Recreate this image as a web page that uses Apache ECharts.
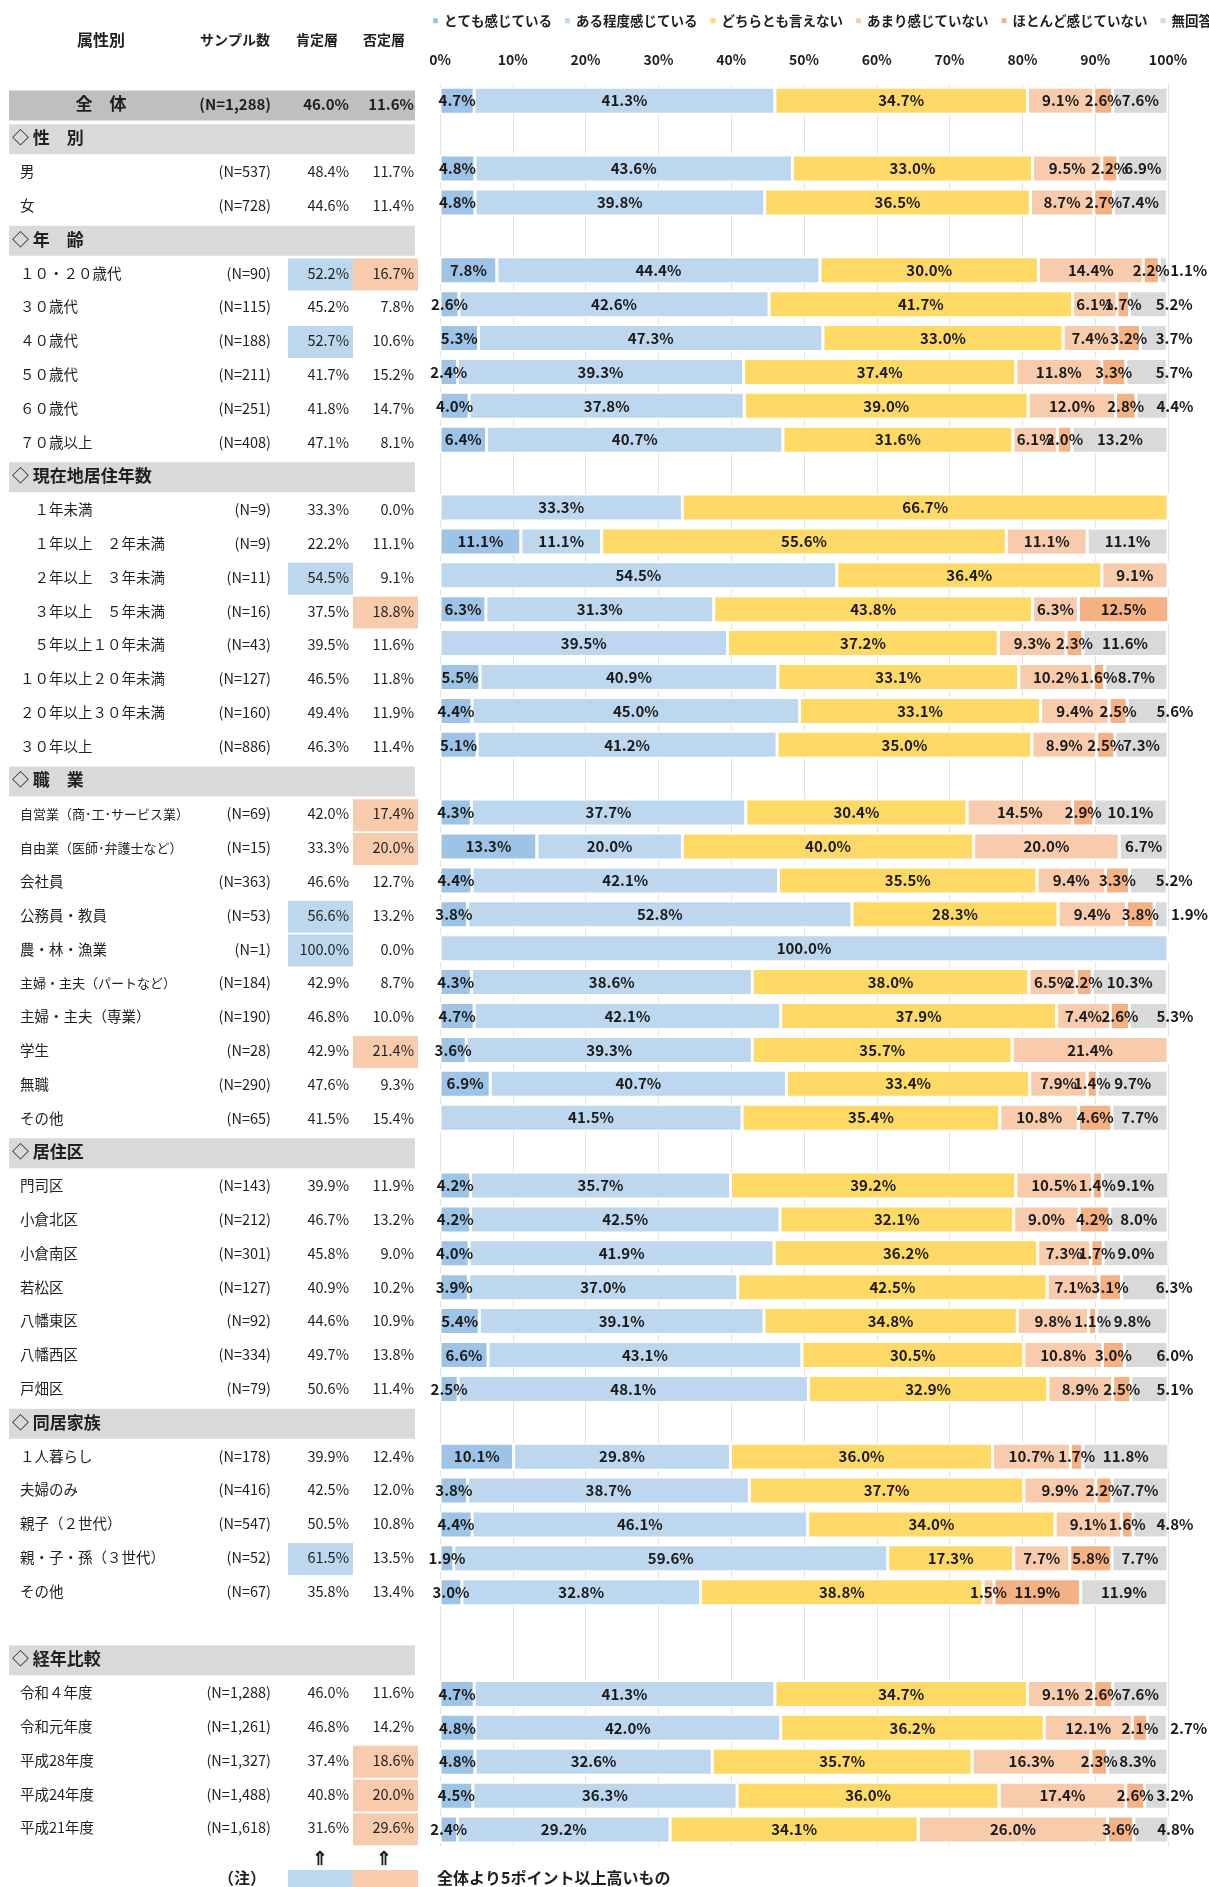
<!DOCTYPE html>
<html>
<head>
<meta charset="utf-8">
<script src="https://cdn.jsdelivr.net/npm/echarts@6/dist/echarts.min.js"></script>
<style>
  html, body { margin: 0; padding: 0; background: #fff; }
  #chart { width: 1209px; height: 1887px; }
</style>
</head>
<body>
<div id="chart"></div>
<script>
/* ── データ ── */
const FONT = "'Noto Sans CJK JP', 'Noto Sans', sans-serif";

// T=全体, S=見出し, I=項目, B=空行
const rowKinds = [
  'T', 'S', 'I', 'I', 'S', 'I', 'I', 'I', 'I', 'I', 'I',
  'S', 'I', 'I', 'I', 'I', 'I', 'I', 'I', 'I',
  'S', 'I', 'I', 'I', 'I', 'I', 'I', 'I', 'I', 'I', 'I',
  'S', 'I', 'I', 'I', 'I', 'I', 'I', 'I',
  'S', 'I', 'I', 'I', 'I', 'I', 'B',
  'S', 'I', 'I', 'I', 'I', 'I'
];

const rowLabels = [
  '全　体', '◇ 性　別', '男', '女',
  '◇ 年　齢', '１０・２０歳代', '３０歳代', '４０歳代', '５０歳代', '６０歳代', '７０歳以上',
  '◇ 現在地居住年数', '　１年未満', '　１年以上　２年未満', '　２年以上　３年未満', '　３年以上　５年未満',
  '　５年以上１０年未満', '１０年以上２０年未満', '２０年以上３０年未満', '３０年以上',
  '◇ 職　業', '自営業（商･工･サービス業）', '自由業（医師･弁護士など）', '会社員', '公務員・教員',
  '農・林・漁業', '主婦・主夫（パートなど）', '主婦・主夫（専業）', '学生', '無職', 'その他',
  '◇ 居住区', '門司区', '小倉北区', '小倉南区', '若松区', '八幡東区', '八幡西区', '戸畑区',
  '◇ 同居家族', '１人暮らし', '夫婦のみ', '親子（２世代）', '親・子・孫（３世代）', 'その他', '',
  '◇ 経年比較', '令和４年度', '令和元年度', '平成28年度', '平成24年度', '平成21年度'
];

const sampleN = [
  '(N=1,288)', '', '(N=537)', '(N=728)',
  '', '(N=90)', '(N=115)', '(N=188)', '(N=211)', '(N=251)', '(N=408)',
  '', '(N=9)', '(N=9)', '(N=11)', '(N=16)', '(N=43)', '(N=127)', '(N=160)', '(N=886)',
  '', '(N=69)', '(N=15)', '(N=363)', '(N=53)', '(N=1)', '(N=184)', '(N=190)', '(N=28)', '(N=290)', '(N=65)',
  '', '(N=143)', '(N=212)', '(N=301)', '(N=127)', '(N=92)', '(N=334)', '(N=79)',
  '', '(N=178)', '(N=416)', '(N=547)', '(N=52)', '(N=67)', '',
  '', '(N=1,288)', '(N=1,261)', '(N=1,327)', '(N=1,488)', '(N=1,618)'
];

// 肯定層
const posPct = [
  46.0, null, 48.4, 44.6,
  null, 52.2, 45.2, 52.7, 41.7, 41.8, 47.1,
  null, 33.3, 22.2, 54.5, 37.5, 39.5, 46.5, 49.4, 46.3,
  null, 42.0, 33.3, 46.6, 56.6, 100.0, 42.9, 46.8, 42.9, 47.6, 41.5,
  null, 39.9, 46.7, 45.8, 40.9, 44.6, 49.7, 50.6,
  null, 39.9, 42.5, 50.5, 61.5, 35.8, null,
  null, 46.0, 46.8, 37.4, 40.8, 31.6
];

// 否定層
const negPct = [
  11.6, null, 11.7, 11.4,
  null, 16.7, 7.8, 10.6, 15.2, 14.7, 8.1,
  null, 0.0, 11.1, 9.1, 18.8, 11.6, 11.8, 11.9, 11.4,
  null, 17.4, 20.0, 12.7, 13.2, 0.0, 8.7, 10.0, 21.4, 9.3, 15.4,
  null, 11.9, 13.2, 9.0, 10.2, 10.9, 13.8, 11.4,
  null, 12.4, 12.0, 10.8, 13.5, 13.4, null,
  null, 11.6, 14.2, 18.6, 20.0, 29.6
];

const seriesNames = ['とても感じている', 'ある程度感じている', 'どちらとも言えない', 'あまり感じていない', 'ほとんど感じていない', '無回答'];
const seriesColors = ['#9dc3e6', '#bdd7ee', '#ffd966', '#f8cbad', '#f4b183', '#d9d9d9'];

const veryFelt = [
  4.7, null, 4.8, 4.8,
  null, 7.8, 2.6, 5.3, 2.4, 4.0, 6.4,
  null, 0, 11.1, 0, 6.3, 0, 5.5, 4.4, 5.1,
  null, 4.3, 13.3, 4.4, 3.8, 0, 4.3, 4.7, 3.6, 6.9, 0,
  null, 4.2, 4.2, 4.0, 3.9, 5.4, 6.6, 2.5,
  null, 10.1, 3.8, 4.4, 1.9, 3.0, null,
  null, 4.7, 4.8, 4.8, 4.5, 2.4
];
const somewhatFelt = [
  41.3, null, 43.6, 39.8,
  null, 44.4, 42.6, 47.3, 39.3, 37.8, 40.7,
  null, 33.3, 11.1, 54.5, 31.3, 39.5, 40.9, 45.0, 41.2,
  null, 37.7, 20.0, 42.1, 52.8, 100.0, 38.6, 42.1, 39.3, 40.7, 41.5,
  null, 35.7, 42.5, 41.9, 37.0, 39.1, 43.1, 48.1,
  null, 29.8, 38.7, 46.1, 59.6, 32.8, null,
  null, 41.3, 42.0, 32.6, 36.3, 29.2
];
const neither = [
  34.7, null, 33.0, 36.5,
  null, 30.0, 41.7, 33.0, 37.4, 39.0, 31.6,
  null, 66.7, 55.6, 36.4, 43.8, 37.2, 33.1, 33.1, 35.0,
  null, 30.4, 40.0, 35.5, 28.3, 0, 38.0, 37.9, 35.7, 33.4, 35.4,
  null, 39.2, 32.1, 36.2, 42.5, 34.8, 30.5, 32.9,
  null, 36.0, 37.7, 34.0, 17.3, 38.8, null,
  null, 34.7, 36.2, 35.7, 36.0, 34.1
];
const notMuch = [
  9.1, null, 9.5, 8.7,
  null, 14.4, 6.1, 7.4, 11.8, 12.0, 6.1,
  null, 0, 11.1, 9.1, 6.3, 9.3, 10.2, 9.4, 8.9,
  null, 14.5, 20.0, 9.4, 9.4, 0, 6.5, 7.4, 21.4, 7.9, 10.8,
  null, 10.5, 9.0, 7.3, 7.1, 9.8, 10.8, 8.9,
  null, 10.7, 9.9, 9.1, 7.7, 1.5, null,
  null, 9.1, 12.1, 16.3, 17.4, 26.0
];
const hardlyAny = [
  2.6, null, 2.2, 2.7,
  null, 2.2, 1.7, 3.2, 3.3, 2.8, 2.0,
  null, 0, 0, 0, 12.5, 2.3, 1.6, 2.5, 2.5,
  null, 2.9, 0, 3.3, 3.8, 0, 2.2, 2.6, 0, 1.4, 4.6,
  null, 1.4, 4.2, 1.7, 3.1, 1.1, 3.0, 2.5,
  null, 1.7, 2.2, 1.6, 5.8, 11.9, null,
  null, 2.6, 2.1, 2.3, 2.6, 3.6
];
const noAnswer = [
  7.6, null, 6.9, 7.4,
  null, 1.1, 5.2, 3.7, 5.7, 4.4, 13.2,
  null, 0, 11.1, 0, 0, 11.6, 8.7, 5.6, 7.3,
  null, 10.1, 6.7, 5.2, 1.9, 0, 10.3, 5.3, 0, 9.7, 7.7,
  null, 9.1, 8.0, 9.0, 6.3, 9.8, 6.0, 5.1,
  null, 11.8, 7.7, 4.8, 7.7, 11.9, null,
  null, 7.6, 2.7, 8.3, 3.2, 4.8
];

const seriesValues = [veryFelt, somewhatFelt, neither, notMuch, hardlyAny, noAnswer];
const xTicks = { min: 0, max: 100, interval: 10 };

/* ── 表 (左側) ── */
const rowIndex = rowLabels.map((_, i) => String(i));
const HIGHLIGHT_GAP = 4.95; // 全体より5ポイント以上高いもの

function renderTableRow(params, api) {
  const i = api.value(1);
  const kind = rowKinds[i];
  if (kind === 'B') return { type: 'group', children: [] };
  const cy = api.coord([0, i])[1];
  const ty = cy - 1.5;
  const children = [];
  const text = (str, x, align, font) => ({
    type: 'text',
    style: {
      text: str, x, y: ty,
      align, textAlign: align, verticalAlign: 'middle', textVerticalAlign: 'middle',
      fill: '#1f1f1f', font
    }
  });
  const rect = (x1, x2, h, fill) => ({
    type: 'rect',
    shape: { x: x1, y: cy - h / 2, width: x2 - x1, height: h },
    style: { fill }
  });

  if (kind === 'T' || kind === 'S') {
    children.push(rect(9, 415, 30, kind === 'T' ? '#bfbfbf' : '#d9d9d9'));
  }
  if (kind === 'T') {
    const bold = `bold 15px ${FONT}`;
    children.push(text(rowLabels[i], 101, 'center', `bold 17px ${FONT}`));
    children.push(text(sampleN[i], 271, 'right', bold));
    children.push(text(posPct[i].toFixed(1) + '%', 349, 'right', bold));
    children.push(text(negPct[i].toFixed(1) + '%', 414, 'right', bold));
  } else if (kind === 'S') {
    children.push(text(rowLabels[i], 12, 'left', `bold 17px ${FONT}`));
  } else {
    if (posPct[i] - posPct[0] >= HIGHLIGHT_GAP) children.push(rect(288, 353, 32, '#bdd7ee'));
    if (negPct[i] - negPct[0] >= HIGHLIGHT_GAP) children.push(rect(353, 418, 32, '#f8cbad'));
    const nameSize = rowLabels[i].length > 10 ? 13 : 14.5;
    children.push(text(rowLabels[i], 20, 'left', `${nameSize}px ${FONT}`));
    children.push(text(sampleN[i], 271, 'right', `14.5px ${FONT}`));
    children.push(text(posPct[i].toFixed(1) + '%', 349, 'right', `14.5px ${FONT}`));
    children.push(text(negPct[i].toFixed(1) + '%', 414, 'right', `14.5px ${FONT}`));
  }
  return { type: 'group', children };
}

/* ── 帯グラフのデータ (ラベル位置調整) ── */
function buildSeriesData(values, isLast) {
  return values.map(v => {
    if (v == null) return '-';
    if (v === 0) return { value: 0, label: { show: false } };
    if (isLast && v < 3) {
      return { value: v, label: { position: 'right', distance: 3 } };
    }
    if (isLast && v < 6.5) {
      return { value: v, label: { position: ['100%', '50%'], align: 'center', verticalAlign: 'middle', offset: [7, 0] } };
    }
    return v;
  });
}

const barSeries = seriesValues.map((vals, k) => ({
  name: seriesNames[k],
  type: 'bar',
  stack: 'total',
  xAxisIndex: 1,
  yAxisIndex: 1,
  barWidth: 27,
  itemStyle: { color: seriesColors[k], borderColor: '#ffffff', borderWidth: 1.5 },
  label: {
    show: true,
    position: 'inside',
    formatter: p => Number(p.value).toFixed(1) + '%',
    color: '#1a1a1a',
    fontFamily: FONT,
    fontWeight: 'bold',
    fontSize: 15
  },
  animation: false,
  data: buildSeriesData(vals, k === seriesValues.length - 1)
}));

const chart = echarts.init(document.getElementById('chart'), null, { renderer: 'canvas' });

const headerText = (str, x, size) => ({
  type: 'text', x, y: 40,
  style: { text: str, align: 'center', textAlign: 'center', verticalAlign: 'middle', textVerticalAlign: 'middle',
           font: `bold ${size}px ${FONT}`, fill: '#1f1f1f' }
});

const arrowText = x => ({
  type: 'text', x, y: 1858,
  style: { text: '⇑', align: 'center', textAlign: 'center', verticalAlign: 'middle', textVerticalAlign: 'middle',
           font: `bold 19px ${FONT}`, fill: '#1f1f1f' }
});

chart.setOption({
  animation: false,
  textStyle: { fontFamily: FONT },
  legend: {
    top: 9, left: 426, width: 1000,
    icon: 'rect', itemWidth: 7, itemHeight: 7, itemGap: 11,
    textStyle: { fontFamily: FONT, fontSize: 13.5, fontWeight: 'bold', color: '#1f1f1f' },
    data: seriesNames
  },
  grid: [
    { left: 0, width: 420, top: 88.6, bottom: 40.8 },
    { left: 440, width: 728, top: 83.8, bottom: 40.5 }
  ],
  xAxis: [
    { gridIndex: 0, type: 'value', min: 0, max: 420, show: false },
    {
      gridIndex: 1, type: 'value', position: 'top',
      min: xTicks.min, max: xTicks.max, interval: xTicks.interval,
      axisLine: { show: false }, axisTick: { show: false },
      axisLabel: { formatter: '{value}%', fontFamily: FONT, fontSize: 14, fontWeight: 'bold', color: '#1f1f1f', margin: 17 },
      splitLine: { show: true, lineStyle: { color: '#e3e3e3', width: 1 } }
    }
  ],
  yAxis: [
    { gridIndex: 0, type: 'category', inverse: true, data: rowIndex, show: false },
    { gridIndex: 1, type: 'category', inverse: true, data: rowIndex, show: false }
  ],
  series: [
    {
      type: 'custom',
      xAxisIndex: 0, yAxisIndex: 0,
      clip: false,
      silent: true,
      renderItem: renderTableRow,
      data: rowIndex.map((_, i) => [0, i])
    },
    ...barSeries
  ],
  graphic: [
    headerText('属性別', 101, 16),
    headerText('サンプル数', 235, 14),
    headerText('肯定層', 317, 14),
    headerText('否定層', 384, 14),
    // 注記
    arrowText(320),
    arrowText(384),
    { type: 'text', x: 242, y: 1878, style: { text: '（注）', align: 'center', textAlign: 'center', verticalAlign: 'middle', textVerticalAlign: 'middle', font: `bold 16px ${FONT}`, fill: '#1f1f1f' } },
    { type: 'rect', shape: { x: 288, y: 1870, width: 65, height: 17 }, style: { fill: '#bdd7ee' } },
    { type: 'rect', shape: { x: 353, y: 1870, width: 65, height: 17 }, style: { fill: '#f8cbad' } },
    { type: 'text', x: 437, y: 1878, style: { text: '全体より5ポイント以上高いもの', align: 'left', textAlign: 'left', verticalAlign: 'middle', textVerticalAlign: 'middle', font: `bold 16px ${FONT}`, fill: '#1f1f1f' } }
  ]
});
</script>
</body>
</html>
